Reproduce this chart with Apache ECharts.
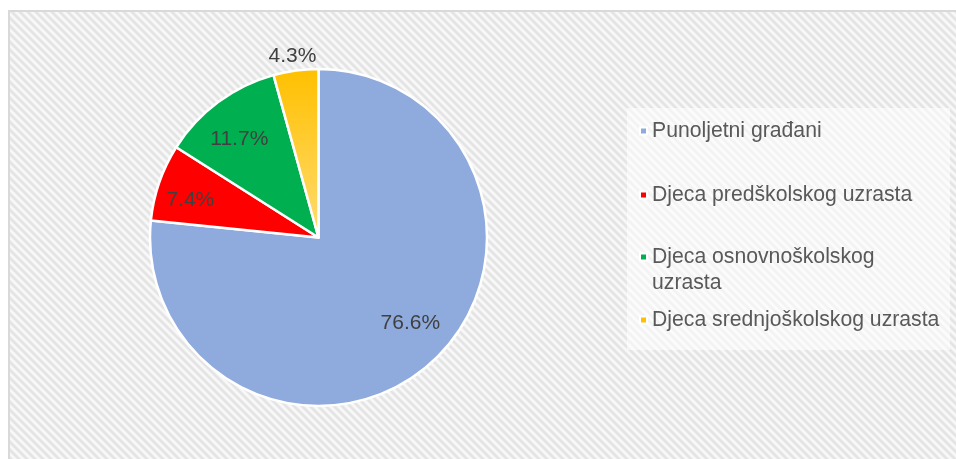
<!DOCTYPE html>
<html>
<head>
<meta charset="utf-8">
<script src="https://cdn.jsdelivr.net/npm/echarts@6/dist/echarts.min.js"></script>
<style>
    html, body { margin: 0; padding: 0; background: #ffffff; }
    #main { width: 956px; height: 459px; }
</style>
</head>
<body>
<div id="main"></div>
<script>
/** 类别 */
var categories = ['Punoljetni građani', 'Djeca predškolskog uzrasta', 'Djeca osnovnoškolskog uzrasta', 'Djeca srednjoškolskog uzrasta'];
/** 图例文字(第三项换行，前面空一行让图标对齐第一行) */
var legendLabels = ['Punoljetni građani', 'Djeca predškolskog uzrasta', ' \nDjeca osnovnoškolskog\nuzrasta', 'Djeca srednjoškolskog uzrasta'];
/** 百分比 */
var shares = [76.6, 7.4, 11.7, 4.3];

var sliceColors = ['#8faadc', '#ff0000', '#00b050', '#ffc000'];
var fontFamily = '"Liberation Sans", Arial, sans-serif';
var pieCenter = [318.5, 237.5];

// 斜纹背景
function makeStripes() {
    var n = 8;
    var cv = document.createElement('canvas');
    cv.width = n;
    cv.height = n;
    var ctx = cv.getContext('2d');
    var img = ctx.createImageData(n, n);
    for (var y = 0; y < n; y++) {
        for (var x = 0; x < n; x++) {
            var t = ((x - y) % n + n) % n;
            var v = 0.5 + 0.5 * Math.cos(2 * Math.PI * t / n);
            var c = Math.round(250 - 24 * v);
            var k = (y * n + x) * 4;
            img.data[k] = c;
            img.data[k + 1] = c;
            img.data[k + 2] = c;
            img.data[k + 3] = 255;
        }
    }
    ctx.putImageData(img, 0, 0);
    return cv;
}

// 只显示一个标签的透明饼图(用来放标签，Excel 的标签位置不完全在扇区中线上)
function labelPie(idx, outerR, startAngle) {
    return {
        type: 'pie',
        silent: true,
        center: pieCenter,
        radius: [0, outerR],
        startAngle: startAngle,
        clockwise: true,
        avoidLabelOverlap: false,
        labelLine: { show: false },
        itemStyle: { color: 'transparent', borderWidth: 0 },
        emphasis: { disabled: true },
        label: {
            position: 'inside',
            formatter: '{c}%',
            fontSize: 21,
            fontFamily: fontFamily,
            color: '#404040'
        },
        z: 5,
        data: categories.map(function (name, i) {
            return { name: name, value: shares[i], label: { show: i === idx } };
        })
    };
}

function legendAt(idx, top) {
    return {
        orient: 'vertical',
        left: 639,
        top: top,
        padding: 0,
        icon: 'rect',
        itemWidth: 7,
        itemHeight: 7,
        selectedMode: false,
        data: [{ name: categories[idx], itemStyle: { color: sliceColors[idx] } }],
        formatter: function (name) {
            return legendLabels[categories.indexOf(name)];
        },
        textStyle: {
            fontSize: 21.2,
            lineHeight: 26,
            fontFamily: fontFamily,
            color: '#595959'
        }
    };
}

var myChart = echarts.init(document.getElementById('main'));

var option = {
    animation: false,
    graphic: [
        {
            type: 'rect',
            z: -10,
            silent: true,
            shape: { x: 9, y: 11, width: 960, height: 460 },
            style: {
                fill: { image: makeStripes(), repeat: 'repeat' },
                stroke: '#d9d9d9',
                lineWidth: 2
            }
        },
        {
            type: 'rect',
            z: -9,
            silent: true,
            shape: { x: 627, y: 108, width: 323, height: 242 },
            style: { fill: 'rgba(255,255,255,0.55)' }
        }
    ],
    legend: [
        legendAt(0, 118),
        legendAt(1, 182),
        legendAt(2, 218),
        legendAt(3, 307)
    ],
    series: [
        {
            type: 'pie',
            center: pieCenter,
            radius: 168.5,
            startAngle: 90,
            clockwise: true,
            label: { show: false },
            labelLine: { show: false },
            itemStyle: { borderColor: '#ffffff', borderWidth: 2.5 },
            data: categories.map(function (name, i) {
                var color = sliceColors[i];
                if (i === 3) {
                    color = new echarts.graphic.LinearGradient(0, 0, 0, 1, [
                        { offset: 0, color: '#ffc000' },
                        { offset: 1, color: '#ffdc73' }
                    ]);
                }
                return { name: name, value: shares[i], itemStyle: { color: color } };
            })
        },
        labelPie(0, 245, 94.9),
        labelPie(1, 261, 92.8),
        labelPie(2, 246, 92.4),
        labelPie(3, 361, 90.4)
    ]
};

myChart.setOption(option);
</script>
</body>
</html>
